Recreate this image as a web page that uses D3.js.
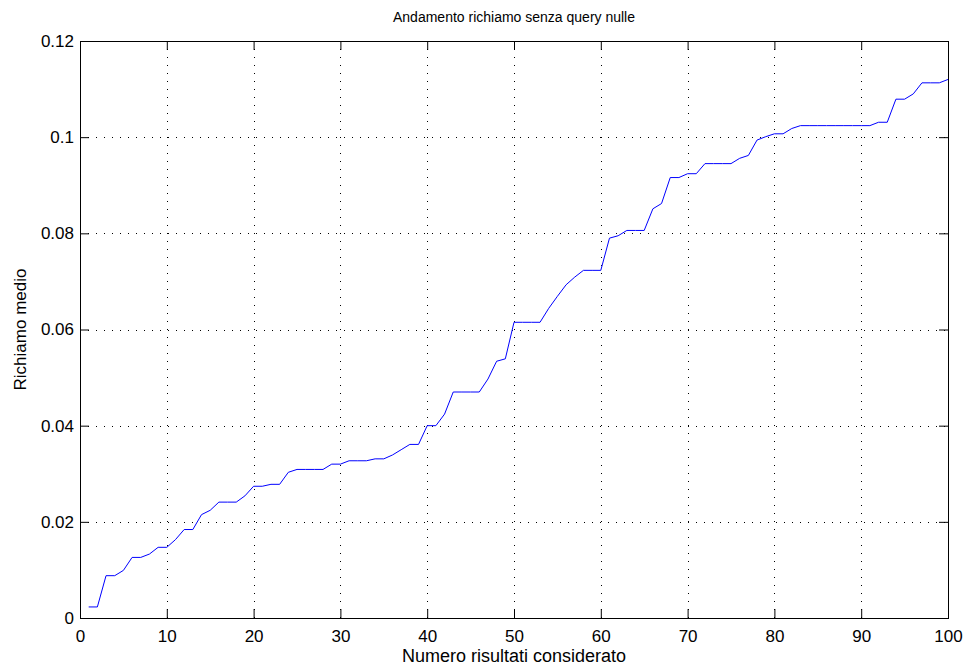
<!DOCTYPE html>
<html>
<head>
<meta charset="utf-8">
<script src="https://cdn.jsdelivr.net/npm/d3@7"></script>
<style>
	body { margin: 0; background: #fff; }
	svg { display: block; }
	text { font-family: 'Liberation Sans', Arial, sans-serif; fill: #000; }
</style>
</head>
<body>
<svg id="chart" width="969" height="669"></svg>
<script>
'use strict'

// numero di risultati considerati (1..100)
var results = d3.range(1, 101);

// richiamo medio
var recall = [
	0.0023, 0.0023, 0.0088, 0.0088, 0.0099, 0.0126, 0.0126, 0.0133, 0.0147, 0.0147,
	0.0163, 0.0184, 0.0184, 0.0215, 0.0224, 0.0241, 0.0241, 0.0241, 0.0254, 0.0274,
	0.0274, 0.0278, 0.0278, 0.0303, 0.0309, 0.0309, 0.0309, 0.0309, 0.0320, 0.0320,
	0.0327, 0.0327, 0.0327, 0.0331, 0.0331, 0.0339, 0.0350, 0.0361, 0.0361, 0.0400,
	0.0400, 0.0424, 0.0470, 0.0470, 0.0470, 0.0470, 0.0497, 0.0534, 0.0539, 0.0615,
	0.0615, 0.0615, 0.0615, 0.0644, 0.0669, 0.0693, 0.0709, 0.0723, 0.0723, 0.0723,
	0.0790, 0.0795, 0.0806, 0.0806, 0.0806, 0.0851, 0.0862, 0.0916, 0.0916, 0.0924,
	0.0924, 0.0945, 0.0945, 0.0945, 0.0945, 0.0956, 0.0962, 0.0994, 0.1001, 0.1007,
	0.1007, 0.1018, 0.1024, 0.1024, 0.1024, 0.1024, 0.1024, 0.1024, 0.1024, 0.1024,
	0.1024, 0.1031, 0.1031, 0.1079, 0.1079, 0.1090, 0.1113, 0.1113, 0.1113, 0.1120
];

var xTicks = d3.range(0, 101, 10);
var yTicks = [0, 0.02, 0.04, 0.06, 0.08, 0.1, 0.12];

var title = 'Andamento richiamo senza query nulle';
var xLabel = 'Numero risultati considerato';
var yLabel = 'Richiamo medio';

var margin = { left: 80, top: 41, right: 21, bottom: 51 };
var width = 969, height = 669;

var svg = d3.select('#chart');

var xScale = d3.scaleLinear()
	.domain([0, 100])
	.range([margin.left, width - margin.right]);
var yScale = d3.scaleLinear()
	.domain([0, 0.12])
	.range([height - margin.bottom, margin.top]);

var x0 = xScale.range()[0], x1 = xScale.range()[1];
var y0 = yScale.range()[0], y1 = yScale.range()[1];

// griglia punteggiata
var grid = svg.append('g')
	.attr('stroke', '#000')
	.attr('stroke-width', 1)
	.attr('stroke-dasharray', '1,7')
	.attr('shape-rendering', 'crispEdges');

grid.selectAll('line.gx')
	.data(xTicks.slice(1, -1))
	.enter()
	.append('line')
	.attr('x1', function(d){ return Math.round(xScale(d)) + 0.5; })
	.attr('x2', function(d){ return Math.round(xScale(d)) + 0.5; })
	.attr('y1', y0)
	.attr('y2', y1);

grid.selectAll('line.gy')
	.data(yTicks.slice(1, -1))
	.enter()
	.append('line')
	.attr('y1', function(d){ return Math.round(yScale(d)) + 0.5; })
	.attr('y2', function(d){ return Math.round(yScale(d)) + 0.5; })
	.attr('x1', x0)
	.attr('x2', x1);

// curva
var line = d3.line()
	.x(function(d, i){ return xScale(results[i]); })
	.y(function(d){ return yScale(d); });

svg.append('path')
	.datum(recall)
	.attr('d', line)
	.attr('fill', 'none')
	.attr('stroke', '#0000ff')
	.attr('stroke-width', 1);

// assi con tacche interne
var tick = 9;

svg.append('g')
	.attr('class', 'axis')
	.attr('transform', `translate(0, ${y0})`)
	.call(d3.axisBottom(xScale).tickValues(xTicks).tickSize(-tick).tickPadding(12));

svg.append('g')
	.attr('transform', `translate(0, ${y1})`)
	.call(d3.axisTop(xScale).tickValues(xTicks).tickSize(-tick).tickFormat(''));

svg.append('g')
	.attr('class', 'axis')
	.attr('transform', `translate(${x0}, 0)`)
	.call(d3.axisLeft(yScale).tickValues(yTicks).tickSize(-tick).tickPadding(6)
		.tickFormat(function(d){ return d3.format('')(+d.toFixed(2)); }));

svg.append('g')
	.attr('transform', `translate(${x1}, 0)`)
	.call(d3.axisRight(yScale).tickValues(yTicks).tickSize(-tick).tickFormat(''));

svg.selectAll('.domain').attr('stroke', '#000');
svg.selectAll('.tick line').attr('stroke', '#000');
svg.selectAll('.axis text')
	.attr('font-size', 17)
	.attr('font-family', "'Liberation Sans', Arial, sans-serif");

// riquadro
svg.append('rect')
	.attr('x', x0 + 0.5)
	.attr('y', y1 + 0.5)
	.attr('width', x1 - x0)
	.attr('height', y0 - y1)
	.attr('fill', 'none')
	.attr('stroke', '#000')
	.attr('stroke-width', 1);

// testi
svg.append('text')
	.attr('x', (x0 + x1) / 2)
	.attr('y', 22)
	.attr('text-anchor', 'middle')
	.attr('font-size', 14)
	.text(title);

svg.append('text')
	.attr('x', (x0 + x1) / 2)
	.attr('y', 662)
	.attr('text-anchor', 'middle')
	.attr('font-size', 18)
	.text(xLabel);

svg.append('text')
	.attr('transform', `translate(26, ${(y0 + y1) / 2}) rotate(-90)`)
	.attr('text-anchor', 'middle')
	.attr('font-size', 17)
	.text(yLabel);
</script>
</body>
</html>
